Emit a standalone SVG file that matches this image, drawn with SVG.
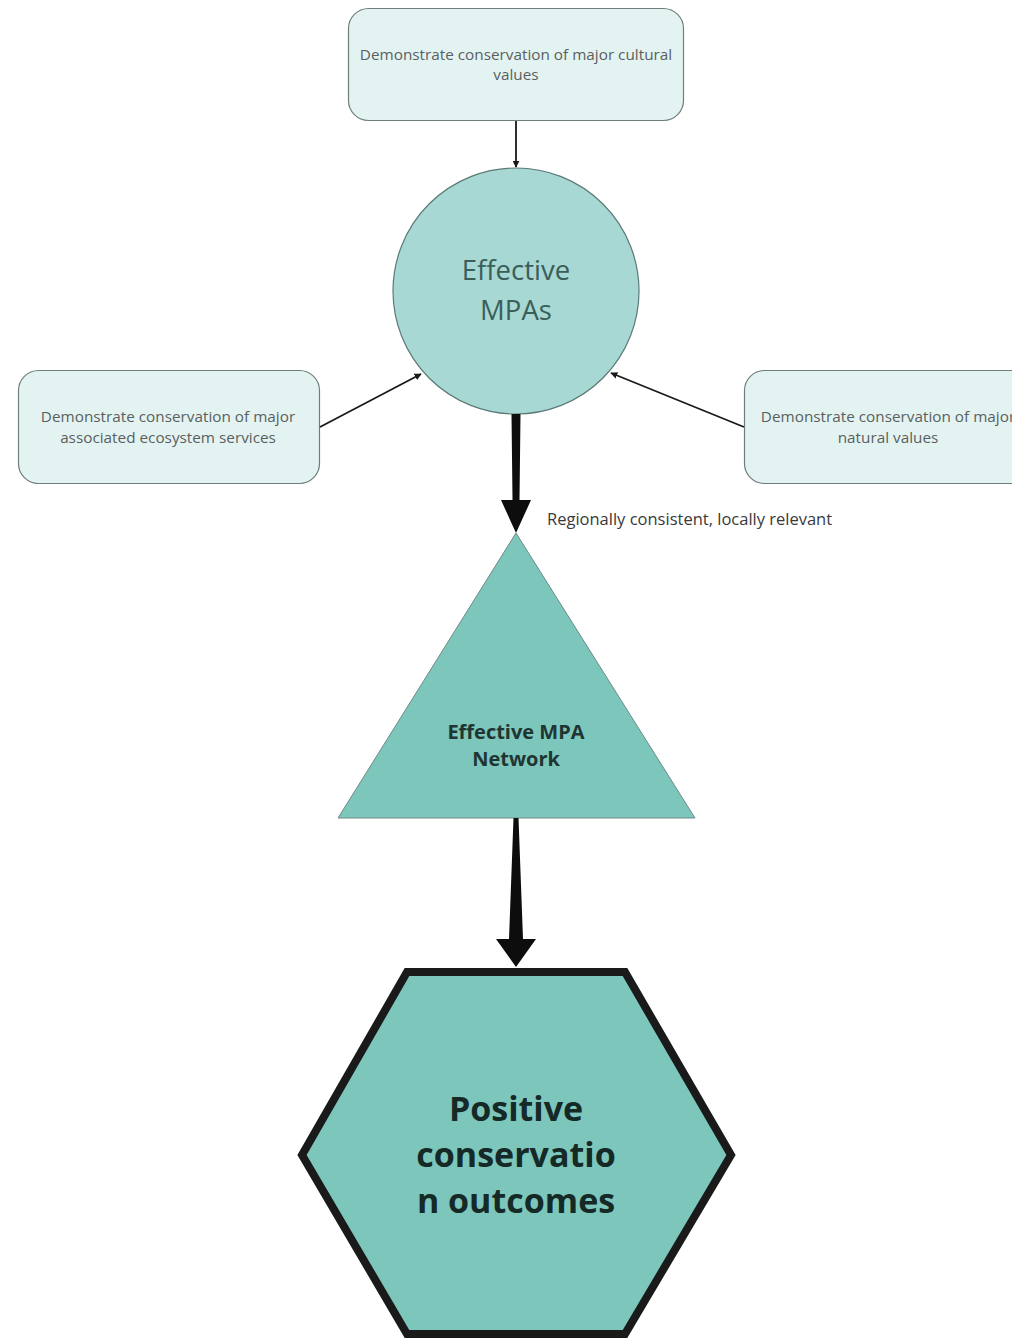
<svg xmlns="http://www.w3.org/2000/svg" width="1012" height="1343" viewBox="0 0 1012 1343">
<style>
.box{fill:#e3f3f2;stroke:#6f7d7b;stroke-width:1.2}
.bt{font-family:"Open Sans","Noto Sans",sans-serif;font-size:15.3px;fill:#5a5f5f;text-anchor:middle}
.thin{stroke:#1a1a1a;stroke-width:1.8;fill:none}
.bold{fill:#0d0d0d}
</style>
<defs>
<marker id="ah" viewBox="0 0 10 10" refX="9" refY="5" markerWidth="7" markerHeight="7" orient="auto" markerUnits="userSpaceOnUse">
<path d="M0,0 L10,5 L0,10 z" fill="#1a1a1a"/>
</marker>
</defs>
<rect width="1012" height="1343" fill="#ffffff"/>
<g id="node-cultural">
<rect class="box" x="348.5" y="8.5" width="335" height="112" rx="20"/>
<text class="bt" x="516" y="60">Demonstrate conservation of major cultural</text>
<text class="bt" x="516" y="80">values</text>
</g>
<g id="node-ecosystem">
<rect class="box" x="18.5" y="370.5" width="301" height="113" rx="20"/>
<text class="bt" x="168" y="422">Demonstrate conservation of major</text>
<text class="bt" x="168" y="443">associated ecosystem services</text>
</g>
<g id="node-natural">
<rect class="box" x="744.5" y="370.5" width="301" height="113" rx="20"/>
<text class="bt" x="888" y="422">Demonstrate conservation of major</text>
<text class="bt" x="888" y="443">natural values</text>
</g>
<g id="node-mpas">
<circle cx="516" cy="291" r="123" fill="#a7d8d3" stroke="#5b7a76" stroke-width="1.2"/>
<text x="516" y="280" font-family="'Open Sans','Noto Sans',sans-serif" font-size="27.5" fill="#3a5e5a" text-anchor="middle">Effective</text>
<text x="516" y="320" font-family="'Open Sans','Noto Sans',sans-serif" font-size="27.5" fill="#3a5e5a" text-anchor="middle">MPAs</text>
</g>
<g id="node-network">
<polygon points="516,533 695,818 338,818" fill="#7cc6bc" stroke="#6e8a86" stroke-width="1"/>
<text x="516" y="739" font-family="'Open Sans','Noto Sans',sans-serif" font-size="20" font-weight="bold" fill="#1f3532" text-anchor="middle">Effective MPA</text>
<text x="516" y="766" font-family="'Open Sans','Noto Sans',sans-serif" font-size="20" font-weight="bold" fill="#1f3532" text-anchor="middle">Network</text>
</g>
<g id="node-outcomes">
<polygon points="407,972 625,972 731,1155 625,1334 407,1334 302,1155" fill="#7cc6bc" stroke="#1a1a1a" stroke-width="8" stroke-linejoin="miter"/>
<text x="516" y="1121" font-family="'Open Sans','Noto Sans',sans-serif" font-size="34" font-weight="bold" fill="#152926" text-anchor="middle">Positive</text>
<text x="516" y="1167" font-family="'Open Sans','Noto Sans',sans-serif" font-size="34" font-weight="bold" fill="#152926" text-anchor="middle">conservatio</text>
<text x="516" y="1213" font-family="'Open Sans','Noto Sans',sans-serif" font-size="34" font-weight="bold" fill="#152926" text-anchor="middle">n outcomes</text>
</g>
<g id="connectors">
<line class="thin" x1="516" y1="121" x2="516" y2="167" marker-end="url(#ah)"/>
<line class="thin" x1="320" y1="427" x2="421" y2="374" marker-end="url(#ah)"/>
<line class="thin" x1="744" y1="427" x2="611" y2="373" marker-end="url(#ah)"/>
<polygon class="bold" points="511.5,414 520.5,414 519.5,500 531,500 516,533 501,500 512.5,500"/>
<polygon class="bold" points="513.5,818 518.5,818 523,939 536,939 516,967 496,939 509,939"/>
<text x="547" y="525" font-family="'Open Sans','Noto Sans',sans-serif" font-size="16.5" fill="#3a3a3a">Regionally consistent, locally relevant</text>
</g>
</svg>
